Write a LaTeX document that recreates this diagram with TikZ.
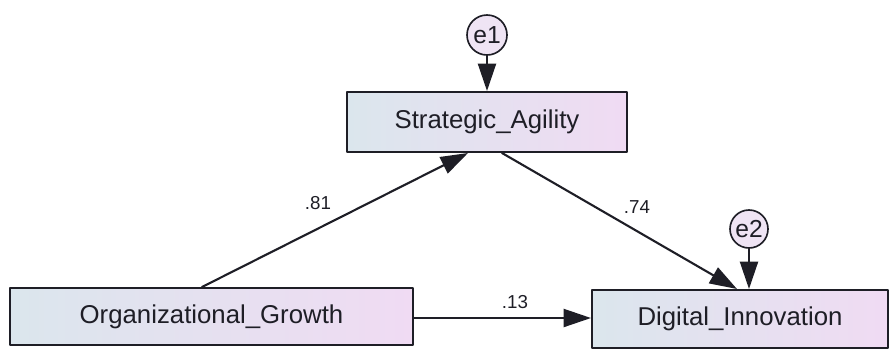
\documentclass[tikz,border=0pt]{standalone}
\usepackage{fontspec}
\setmainfont{Liberation Sans}
\usepackage{xcolor}
\usepackage{tikz}
\usetikzlibrary{arrows.meta,calc,positioning}
\definecolor{ink}{HTML}{1E1E26}
\definecolor{boxleft}{HTML}{DBE6ED}
\definecolor{boxright}{HTML}{F0DBF3}
\definecolor{errfill}{HTML}{EFE4F4}
\tikzset{
  ObsBox/.style={
    draw=ink, line width=1.7pt,
    left color=boxleft, right color=boxright,
    inner sep=0pt, text=ink,
    font=\fontsize{22}{26}\selectfont
  },
  ErrCircle/.style={
    circle, draw=ink, line width=1.4pt,
    fill=errfill, inner sep=0pt,
    text=ink, font=\fontsize{21}{24}\selectfont
  },
  PathArrow/.style={
    draw=ink, line width=1.8pt,
    -{Triangle[length=0.82cm,width=0.54cm]}
  },
  CoefLabel/.style={text=ink, font=\fontsize{16}{19}\selectfont}
}

\begin{document}
\begin{tikzpicture}[x=0.03cm, y=-0.03cm, line cap=round, line join=round]
  \useasboundingbox (0,0) rectangle (891,350);

  % observed variables
  \node[ObsBox, minimum width=8.4cm, minimum height=1.8cm] (agility) at (487,122) {Strategic\_Agility};
  \node[ObsBox, minimum width=12.09cm, minimum height=1.71cm] (growth) at (211.5,316.5) {Organizational\_Growth};
  \node[ObsBox, minimum width=8.88cm, minimum height=1.74cm] (innov) at (740,319) {Digital\_Innovation};

  % error terms
  \node[ErrCircle, minimum size=1.2cm] (e1) at (487,35) {e1};
  \node[ErrCircle, minimum size=1.14cm] (e2) at (749,229) {e2};

  % paths
  \coordinate (gstart) at ($(growth.east)+(0,1.5)$);
  \draw[PathArrow] (e1.south) -- (agility.north);
  \draw[PathArrow] (e2.south) -- (e2.south |- innov.north);
  \draw[PathArrow] ($(growth.north)+(-9.5,0)$) -- ($(agility.south)+(-19,0)$);
  \draw[PathArrow] ($(agility.south)+(15,0)$) -- ($(innov.north)+(-3,0)$);
  \draw[PathArrow] (gstart) -- (gstart -| innov.west);

  % standardized estimates
  \node[CoefLabel] (c81) at (318,203) {.81};
  \node[CoefLabel] (c74) at (637,207) {.74};
  \node[CoefLabel] (c13) at (515,302) {.13};
\end{tikzpicture}
\end{document}
